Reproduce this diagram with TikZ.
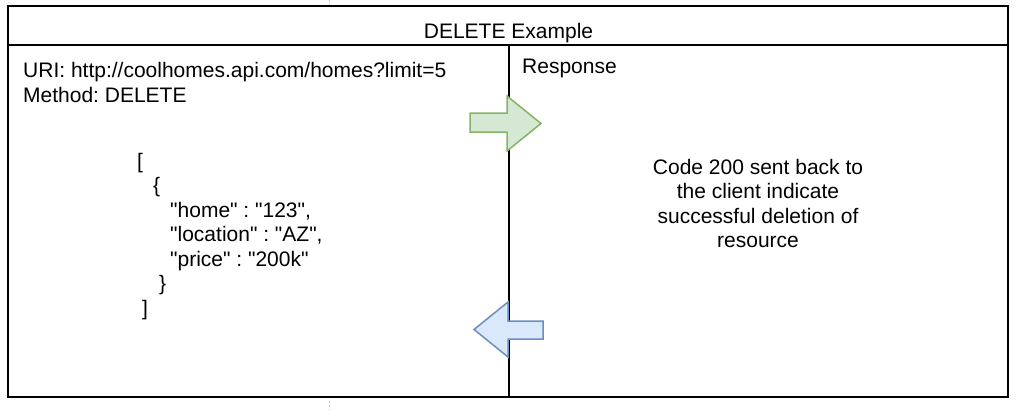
\documentclass[tikz,border=0pt]{standalone}
\usepackage{fontspec}
\setmainfont{Liberation Sans}[Ligatures=TeXOff]
\frenchspacing

\definecolor{okfill}{HTML}{D5E8D4}
\definecolor{okline}{HTML}{82B366}
\definecolor{backfill}{HTML}{DAE8FC}
\definecolor{backline}{HTML}{6C8EBF}

\tikzset{
  frame/.style={line width=2pt, draw=black},
  label/.style={inner sep=0pt, align=left},
  bigarrow/.style={line width=1.5pt, line join=miter}
}

\begin{document}
\begin{tikzpicture}[x=1pt, y=-1pt, font=\fontsize{21}{24.5}\selectfont\frenchspacing]

  \useasboundingbox (0,0) rectangle (1019,410);

  % corners of the table
  \coordinate (TL) at (8,6);
  \coordinate (BR) at (1008,397);
  \coordinate (HL) at (8,45);
  \coordinate (HR) at (1008,45);
  \coordinate (MT) at (509,45);
  \coordinate (MB) at (509,397);

  % page marks
  \draw[gray!40, line width=0.6pt, dash pattern=on 2pt off 2pt] (329,0) -- (329,5);
  \draw[gray!40, line width=0.6pt, dash pattern=on 2pt off 2pt] (329,401) -- (329,410);

  % table
  \draw[frame] (TL) rectangle (BR);
  \draw[frame] (HL) -- (HR);
  \draw[frame] (MT) -- (MB);

  % arrows
  \draw[bigarrow, fill=okfill, draw=okline]
    (470,113) -- (507,113) -- (507,96) -- (541,123.5) -- (507,151) -- (507,132) -- (470,132) -- cycle;
  \draw[bigarrow, fill=backfill, draw=backline]
    (543,321) -- (508,321) -- (508,302) -- (474,329.5) -- (508,357) -- (508,339) -- (543,339) -- cycle;

  % texts (base = baseline of the last line)
  \node[label, anchor=base] (title) at (508.5,38) {DELETE Example};
  \node[label, anchor=base west] (request) at (23,102)
    {URI: http://coolhomes.api.com/homes?limit=5\\Method: DELETE};
  \node[label, anchor=base west] (response) at (522,73) {Response};
  \node[label, align=center, anchor=base] (result) at (758,247.5)
    {Code 200 sent back to\\the client indicate\\successful deletion of\\resource};
  \node[label, anchor=base west] (body) at (137,315)
    {[\\
     \hspace*{16pt}\{\\
     \hspace*{33pt}"home" : "123",\\
     \hspace*{33pt}"location" : "AZ",\\
     \hspace*{33pt}"price" : "200k"\\
     \hspace*{22pt}\}\\
     \hspace*{5pt}]};

\end{tikzpicture}
\end{document}
